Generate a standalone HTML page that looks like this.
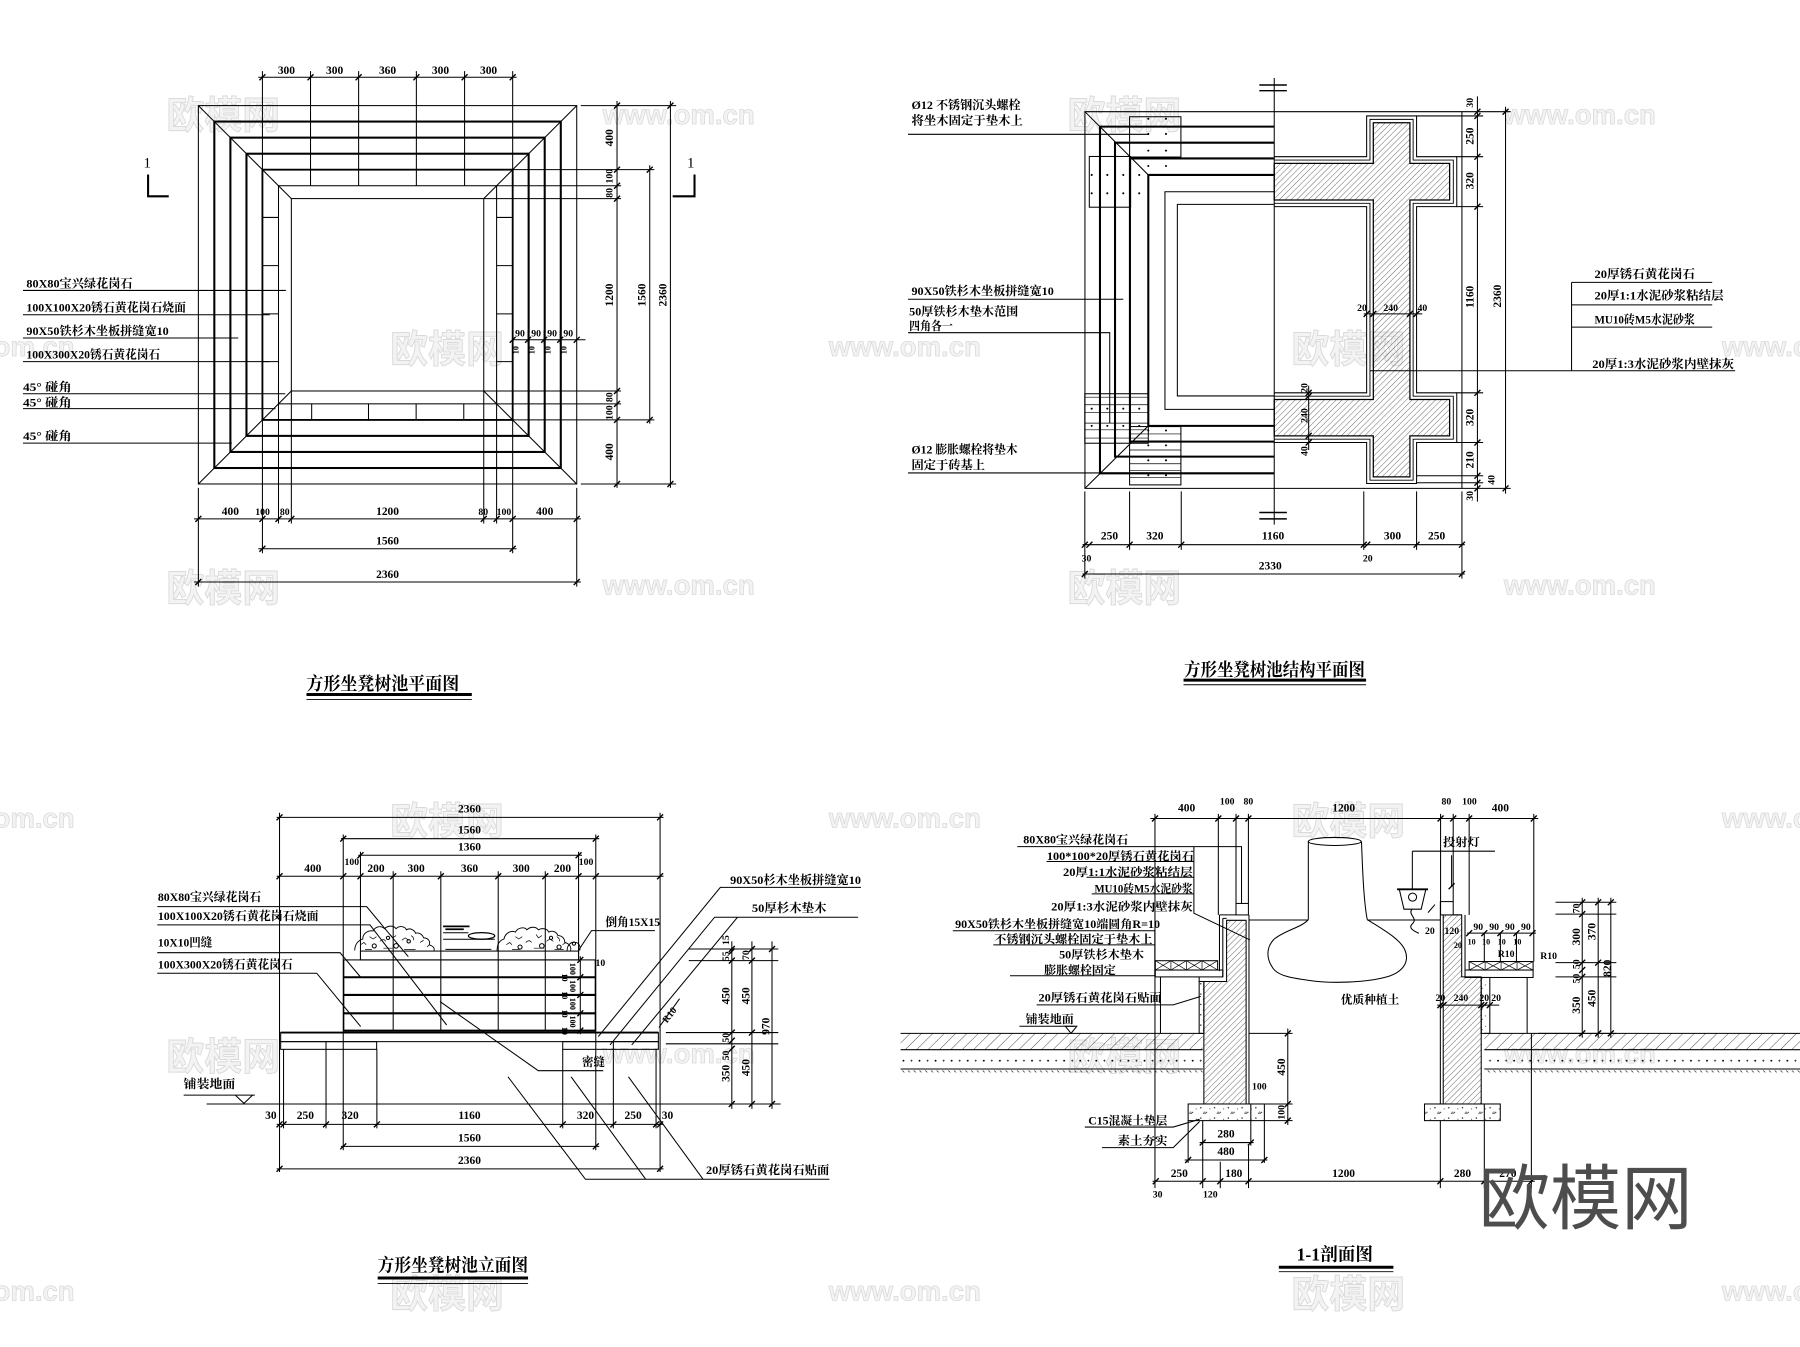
<!DOCTYPE html>
<html><head><meta charset="utf-8">
<style>
html,body{margin:0;padding:0;background:#fff;}
svg{display:block;}
text{font-family:"Liberation Serif","Noto Serif CJK SC","Noto Sans CJK SC",serif;font-weight:bold;fill:#000;stroke:none;}
.d{font-size:10px;}
.s{font-size:8.5px;}
.x{font-size:7px;}
.l{font-size:10.5px;}
.t{font-size:16px;}
.wm{font-family:"Noto Sans CJK SC",sans-serif;font-weight:bold;fill:#f3f3f3;stroke:#dadada;stroke-width:0.8;font-size:33px;}
.wu{font-family:"Liberation Sans",sans-serif;font-weight:bold;fill:#f3f3f3;stroke:#dadada;stroke-width:0.7;font-size:24px;}
.big{font-family:"Noto Sans CJK SC",sans-serif;font-weight:normal;fill:#4d4d4d;font-size:62px;}
</style></head><body>
<svg width="1800" height="1347" viewBox="0 0 1568 1173.4" preserveAspectRatio="none" xmlns="http://www.w3.org/2000/svg" xmlns:xlink="http://www.w3.org/1999/xlink">
<defs>
<path id="k" d="M-2.6,2.6L2.6,-2.6" stroke="#000" stroke-width="1.2" fill="none"/>
<pattern id="h" width="3.6" height="3.6" patternUnits="userSpaceOnUse" patternTransform="rotate(45)"><line x1="0" y1="0" x2="0" y2="3.6" stroke="#000" stroke-width="0.5"/></pattern>
<pattern id="g" width="7" height="7" patternUnits="userSpaceOnUse" patternTransform="rotate(45)"><line x1="0" y1="0" x2="0" y2="7" stroke="#000" stroke-width="0.6"/></pattern>
<pattern id="dt" width="14" height="8" patternUnits="userSpaceOnUse"><circle cx="3" cy="4" r="0.8" fill="#000"/><path d="M9,4h2M10,3v2" stroke="#000" stroke-width="0.5"/></pattern>
<pattern id="sm" width="5" height="4" patternUnits="userSpaceOnUse"><line x1="1" y1="0.5" x2="3" y2="2.5" stroke="#000" stroke-width="0.5"/></pattern>
<pattern id="cc" width="12" height="9" patternUnits="userSpaceOnUse"><circle cx="2" cy="2" r="0.6" fill="#000"/><circle cx="7" cy="6" r="0.5" fill="#000"/><circle cx="10" cy="3" r="0.4" fill="#000"/><path d="M4,7l1.2,-1.6l1.2,1.6z" fill="none" stroke="#000" stroke-width="0.4"/></pattern>
</defs>

<!-- faint watermarks -->
<g>
<text class="wm" x="145" y="112">欧模网</text><text class="wu" x="525" y="108">www.om.cn</text><text class="wm" x="930" y="112">欧模网</text><text class="wu" x="1310" y="108">www.om.cn</text>
<text class="wu" x="65" y="310" text-anchor="end">om.cn</text><text class="wm" x="340" y="316">欧模网</text><text class="wu" x="722" y="310">www.om.cn</text><text class="wm" x="1125" y="316">欧模网</text><text class="wu" x="1500" y="310">www.om.cn</text>
<text class="wm" x="145" y="524">欧模网</text><text class="wu" x="525" y="518">www.om.cn</text><text class="wm" x="930" y="524">欧模网</text><text class="wu" x="1310" y="518">www.om.cn</text>
<text class="wu" x="65" y="721" text-anchor="end">om.cn</text><text class="wm" x="340" y="727">欧模网</text><text class="wu" x="722" y="721">www.om.cn</text><text class="wm" x="1125" y="727">欧模网</text><text class="wu" x="1500" y="721">www.om.cn</text>
<text class="wm" x="145" y="932">欧模网</text><text class="wu" x="525" y="926">www.om.cn</text><text class="wm" x="930" y="932">欧模网</text><text class="wu" x="1310" y="926">www.om.cn</text>
<text class="wu" x="65" y="1133" text-anchor="end">om.cn</text><text class="wm" x="340" y="1139">欧模网</text><text class="wu" x="722" y="1133">www.om.cn</text><text class="wm" x="1125" y="1139">欧模网</text><text class="wu" x="1500" y="1133">www.om.cn</text>
</g>

<!-- ================= PLAN ================= -->
<g stroke="#000" fill="none" stroke-width="0.9">
<rect x="172.8" y="92" width="329.6" height="329.6"/>
<rect x="186.7" y="105.9" width="301.8" height="301.8" stroke-width="1.8"/>
<rect x="200.7" y="119.9" width="273.8" height="273.8" stroke-width="1.8"/>
<rect x="214.7" y="133.9" width="245.8" height="245.8" stroke-width="1.8"/>
<rect x="228.6" y="147.8" width="218" height="218" stroke-width="1.6"/>
<rect x="242.6" y="161.8" width="190" height="190"/>
<rect x="253.8" y="173" width="167.6" height="167.6"/>
<path d="M172.8,92L253.8,173M502.4,92L421.4,173M172.8,421.6L253.8,340.6M502.4,421.6L421.4,340.6"/>
<path d="M270.5,62V161.8M312.4,62V161.8M362.7,62V161.8M404.7,62V161.8M271.5,351.8V365.8M321,351.8V365.8M362.5,351.8V365.8M404,351.8V365.8M228.6,189.4H242.6M228.6,231.4H242.6M228.6,273.4H242.6M228.6,315H242.6M432.6,189.4H446.6M432.6,231.4H446.6M432.6,273.4H446.6M432.6,315H446.6"/>
<path d="M228.6,62V482M446.6,62V482M242.6,340V456M432.6,340V456M253.8,340V456M421.4,340V456M172.8,425V511M502.4,425V511"/>
<path d="M225,67.3H450"/>
<path d="M506,92H589M446.6,147.8H570M432.6,161.8H541M421.4,173H541M421.4,340.6H541M432.6,351.8H541M446.6,365.8H570M506,421.6H589"/>
<path d="M537.5,88V425M566,144V369M584,88V425"/>
<path d="M169,452H506M225,478H450M169,507H506"/>
<path d="M446.6,296H510M460,288V300M474,288V300M488,288V300"/>
<path d="M20,253H249M20,274.2H235M20,294.4H207.5M20,315H235M20,343H248.5M20,356H240M20,386H202"/>
<path d="M129,152V171H147M605,152V171H586" stroke-width="1.8"/>
</g>
<g>
<use href="#k" x="228.6" y="67.3"/><use href="#k" x="270.5" y="67.3"/><use href="#k" x="312.4" y="67.3"/><use href="#k" x="362.7" y="67.3"/><use href="#k" x="404.7" y="67.3"/><use href="#k" x="446.6" y="67.3"/>
<use href="#k" x="537.5" y="92"/><use href="#k" x="537.5" y="147.8"/><use href="#k" x="537.5" y="161.8"/><use href="#k" x="537.5" y="173"/><use href="#k" x="537.5" y="340.6"/><use href="#k" x="537.5" y="351.8"/><use href="#k" x="537.5" y="365.8"/><use href="#k" x="537.5" y="421.6"/>
<use href="#k" x="566" y="147.8"/><use href="#k" x="566" y="365.8"/><use href="#k" x="584" y="92"/><use href="#k" x="584" y="421.6"/>
<use href="#k" x="172.8" y="452"/><use href="#k" x="228.6" y="452"/><use href="#k" x="242.6" y="452"/><use href="#k" x="253.8" y="452"/><use href="#k" x="421.4" y="452"/><use href="#k" x="432.6" y="452"/><use href="#k" x="446.6" y="452"/><use href="#k" x="502.4" y="452"/>
<use href="#k" x="228.6" y="478"/><use href="#k" x="446.6" y="478"/><use href="#k" x="172.8" y="507"/><use href="#k" x="502.4" y="507"/>
<use href="#k" x="446.6" y="296"/><use href="#k" x="460" y="296"/><use href="#k" x="474" y="296"/><use href="#k" x="488" y="296"/><use href="#k" x="502.4" y="296"/>
</g>
<g text-anchor="middle">
<text class="d" x="249.5" y="64.5">300</text><text class="d" x="291.5" y="64.5">300</text><text class="d" x="337.6" y="64.5">360</text><text class="d" x="383.7" y="64.5">300</text><text class="d" x="425.6" y="64.5">300</text>
<text class="d" transform="translate(530.5 120) rotate(-90)" y="3.5">400</text>
<text class="s" transform="translate(530.5 153.5) rotate(-90)" y="3">100</text>
<text class="s" transform="translate(530.5 168) rotate(-90)" y="3">80</text>
<text class="d" transform="translate(530.5 257) rotate(-90)" y="3.5">1200</text>
<text class="s" transform="translate(530.5 346) rotate(-90)" y="3">80</text>
<text class="s" transform="translate(530.5 359.5) rotate(-90)" y="3">100</text>
<text class="d" transform="translate(530.5 393.6) rotate(-90)" y="3.5">400</text>
<text class="d" transform="translate(559 257) rotate(-90)" y="3.5">1560</text>
<text class="d" transform="translate(577 257) rotate(-90)" y="3.5">2360</text>
<text class="d" x="200.7" y="448.5">400</text><text class="s" x="228.7" y="448.5">100</text><text class="s" x="248" y="448.5">80</text><text class="d" x="337.6" y="448.5">1200</text><text class="s" x="421" y="448.5">80</text><text class="s" x="439" y="448.5">100</text><text class="d" x="474.5" y="448.5">400</text>
<text class="d" x="337.6" y="474.5">1560</text><text class="d" x="337.6" y="503.5">2360</text>
<text class="s" x="453" y="293">90</text><text class="s" x="467" y="293">90</text><text class="s" x="481" y="293">90</text><text class="s" x="495" y="293">90</text>
<text class="x" transform="translate(449 305) rotate(-90)" y="2.5">10</text><text class="x" transform="translate(463 305) rotate(-90)" y="2.5">10</text><text class="x" transform="translate(477 305) rotate(-90)" y="2.5">10</text><text class="x" transform="translate(491 305) rotate(-90)" y="2.5">10</text>
</g>
<text x="125" y="146" style="font-size:13px;font-weight:normal">1</text>
<text x="598.5" y="146" style="font-size:13px;font-weight:normal">1</text>
<g class="l">
<text class="l" x="23" y="250.5" textLength="92.5" lengthAdjust="spacingAndGlyphs">80X80宝兴绿花岗石</text>
<text class="l" x="23" y="271.5" textLength="139" lengthAdjust="spacingAndGlyphs">100X100X20锈石黄花岗石烧面</text>
<text class="l" x="23" y="292" textLength="124" lengthAdjust="spacingAndGlyphs">90X50铁杉木坐板拼缝宽10</text>
<text class="l" x="23" y="312.5" textLength="116.5" lengthAdjust="spacingAndGlyphs">100X300X20锈石黄花岗石</text>
<text class="l" x="20" y="340.5" textLength="42.5" lengthAdjust="spacingAndGlyphs">45° 碰角</text>
<text class="l" x="20" y="354" textLength="42.5" lengthAdjust="spacingAndGlyphs">45° 碰角</text>
<text class="l" x="20" y="383.5" textLength="42.5" lengthAdjust="spacingAndGlyphs">45° 碰角</text>
</g>
<text class="t" x="267" y="601" textLength="133" lengthAdjust="spacingAndGlyphs">方形坐凳树池平面图</text>
<path d="M267,605H411" stroke="#000" stroke-width="2.6"/>
<path d="M267,609.3H411" stroke="#000" stroke-width="0.8"/>

<!-- ================= STRUCTURE PLAN ================= -->
<g stroke="#000" fill="none" stroke-width="0.9">
<path d="M1110,68V457"/>
<path d="M1097,74H1121M1097,79H1121M1097,446.5H1121M1097,452H1121" stroke-width="1.3"/>
<path d="M945.1,97.3H1273.5V425.4H945.1Z"/>
<path d="M1110,110.3H958.2V412.3H1110M1110,124.3H971.3V397.8H1110M1110,138H984.3V384.7H1110M1110,152.4H1000.3V371H1110" stroke-width="1.8"/>
<path d="M1110,167H1014.8V356.6H1110M1110,178H1025.6V344.9H1110"/>
<path d="M945.1,97.3L1000.3,152.4M945.1,425.4L1000.3,371"/>
<rect x="984" y="101.7" width="44.7" height="35.1"/>
<rect x="948.9" y="136.3" width="36" height="44.2"/>
<rect x="945" y="343" width="55.3" height="43.1"/>
<path d="M945,346H1000.3M945,352.6H1000.3M945,359.3H1000.3M945,368.6H1000.3M945,374.4H1000.3M945,381.6H1000.3" stroke-width="0.6"/>
<rect x="984" y="371.6" width="44.7" height="50.8"/>
<path d="M984,378H1028.7M984,384H1028.7M984,392H1028.7M984,398H1028.7M984,404H1028.7M984,410H1028.7M984,416H1028.7" stroke-width="0.6"/>
<path d="M1110,136.5H1190.5V101H1234V136.5H1269V180H1234V342.2H1269V385.5H1234V421.2H1190.5V385.5H1110M1110,342.2H1190.5V180H1110"/>
<path d="M1110,139.4H1193.4V104H1231V139.4H1266V177.1H1231V345.1H1266V382.6H1231V418.3H1193.4V382.6H1110M1110,345.1H1193.4V177.1H1110" stroke-width="0.8"/>
<path fill="url(#h)" stroke-width="1.1" d="M1110,142.3H1196.3V106.9H1228.2V142.3H1262.8V174.2H1228.2V348H1262.8V379.7H1228.2V415.4H1196.3V379.7H1110V348H1196.3V174.2H1110Z"/>
<path d="M1188,273.4H1239"/>
<path d="M1140,336V392"/>
<path d="M1369,246V323M1369,246H1491.5M1369,265.6H1491.5M1369,285H1491.5M1193,323H1511.5"/>
<path d="M791,117H1000.3M791,260.7H978.5M791,289.8H966.7V368.6M791,412H1014"/>
<path d="M945,428V504M1273.5,428V504M984,428V479M1029,428V479M1188,428V479M1234,428V479M943,474.5H1276M943,500H1276"/>
<path d="M1273.5,97.3H1316M1234,101H1292M1269,136.5H1292M1269,180H1292M1269,342.2H1292M1269,385.5H1292M1234,414.4H1292M1234,420.5H1292M1273.5,425.4H1316M1287,84V437M1311.5,93V430"/>
</g>
<g fill="#000">
<circle cx="1000.3" cy="103.5" r="0.9"/><circle cx="1015.7" cy="103.5" r="0.9"/><circle cx="1000.3" cy="116.7" r="0.9"/><circle cx="1015.7" cy="116.7" r="0.9"/><circle cx="1000.3" cy="131.2" r="0.9"/><circle cx="1015.7" cy="131.2" r="0.9"/><circle cx="1000.3" cy="144.6" r="0.9"/><circle cx="1015.7" cy="144.6" r="0.9"/>
<circle cx="951" cy="152.4" r="0.9"/><circle cx="964.6" cy="152.4" r="0.9"/><circle cx="978.5" cy="152.4" r="0.9"/><circle cx="992.4" cy="152.4" r="0.9"/><circle cx="951" cy="168.4" r="0.9"/><circle cx="964.6" cy="168.4" r="0.9"/><circle cx="978.5" cy="168.4" r="0.9"/><circle cx="992.4" cy="168.4" r="0.9"/>
<circle cx="951" cy="356" r="0.9"/><circle cx="964.6" cy="356" r="0.9"/><circle cx="978.5" cy="356" r="0.9"/><circle cx="992.4" cy="356" r="0.9"/><circle cx="951" cy="371" r="0.9"/><circle cx="964.6" cy="371" r="0.9"/><circle cx="978.5" cy="371" r="0.9"/><circle cx="992.4" cy="371" r="0.9"/>
<circle cx="1000.3" cy="375" r="0.9"/><circle cx="1015.7" cy="375" r="0.9"/><circle cx="1000.3" cy="388" r="0.9"/><circle cx="1015.7" cy="388" r="0.9"/><circle cx="1000.3" cy="401" r="0.9"/><circle cx="1015.7" cy="401" r="0.9"/><circle cx="1000.3" cy="414" r="0.9"/><circle cx="1015.7" cy="414" r="0.9"/>
</g>
<g>
<use href="#k" x="1287" y="97.3"/><use href="#k" x="1287" y="101"/><use href="#k" x="1287" y="136.5"/><use href="#k" x="1287" y="180"/><use href="#k" x="1287" y="342.2"/><use href="#k" x="1287" y="385.5"/><use href="#k" x="1287" y="414.4"/><use href="#k" x="1287" y="420.5"/><use href="#k" x="1287" y="425.4"/>
<use href="#k" x="1311.5" y="97.3"/><use href="#k" x="1311.5" y="425.4"/>
<use href="#k" x="945" y="474.5"/><use href="#k" x="949" y="474.5"/><use href="#k" x="984" y="474.5"/><use href="#k" x="1029" y="474.5"/><use href="#k" x="1188" y="474.5"/><use href="#k" x="1191" y="474.5"/><use href="#k" x="1234" y="474.5"/><use href="#k" x="1273.5" y="474.5"/>
<use href="#k" x="945" y="500"/><use href="#k" x="1273.5" y="500"/>
<use href="#k" x="1190.5" y="273.4"/><use href="#k" x="1196.3" y="273.4"/><use href="#k" x="1228.2" y="273.4"/><use href="#k" x="1234" y="273.4"/>
<use href="#k" x="1140" y="342.2"/><use href="#k" x="1140" y="345.1"/><use href="#k" x="1140" y="379.7"/><use href="#k" x="1140" y="385.5"/>
</g>
<text class="l" x="794" y="95" textLength="95" lengthAdjust="spacingAndGlyphs">Ø12 不锈钢沉头螺栓</text>
<text class="l" x="794" y="108.5" textLength="97" lengthAdjust="spacingAndGlyphs">将坐木固定于垫木上</text>
<text class="l" x="794" y="257" textLength="124" lengthAdjust="spacingAndGlyphs">90X50铁杉木坐板拼缝宽10</text>
<text class="l" x="792" y="275" textLength="95" lengthAdjust="spacingAndGlyphs">50厚铁杉木垫木范围</text>
<text class="l" x="792" y="287.5" textLength="38" lengthAdjust="spacingAndGlyphs">四角各一</text>
<text class="l" x="794" y="395" textLength="92.5" lengthAdjust="spacingAndGlyphs">Ø12 膨胀螺栓将垫木</text>
<text class="l" x="794" y="408.5" textLength="64" lengthAdjust="spacingAndGlyphs">固定于砖基上</text>
<text class="l" x="1389" y="242" textLength="87.5" lengthAdjust="spacingAndGlyphs">20厚锈石黄花岗石</text>
<text class="l" x="1389" y="261" textLength="112.5" lengthAdjust="spacingAndGlyphs">20厚1:1水泥砂浆粘结层</text>
<text class="l" x="1389" y="282" textLength="87.5" lengthAdjust="spacingAndGlyphs">MU10砖M5水泥砂浆</text>
<text class="l" x="1387" y="320.5" textLength="123.5" lengthAdjust="spacingAndGlyphs">20厚1:3水泥砂浆内壁抹灰</text>
<g text-anchor="middle">
<text class="s" transform="translate(1280 89.5) rotate(-90)" y="3">30</text>
<text class="d" transform="translate(1280 118.6) rotate(-90)" y="3.5">250</text>
<text class="d" transform="translate(1280 157.5) rotate(-90)" y="3.5">320</text>
<text class="d" transform="translate(1280 258.6) rotate(-90)" y="3.5">1160</text>
<text class="d" transform="translate(1280 363.6) rotate(-90)" y="3.5">320</text>
<text class="d" transform="translate(1280 400.6) rotate(-90)" y="3.5">210</text>
<text class="s" transform="translate(1299 418) rotate(-90)" y="3">40</text>
<text class="s" transform="translate(1280 432) rotate(-90)" y="3">30</text>
<text class="d" transform="translate(1304 258) rotate(-90)" y="3.5">2360</text>
<text class="s" x="1186.5" y="271">20</text><text class="s" x="1211.5" y="271">240</text><text class="s" x="1239" y="271">40</text>
<text class="s" transform="translate(1136 338) rotate(-90)" y="3">20</text>
<text class="s" transform="translate(1136 362) rotate(-90)" y="3">240</text>
<text class="s" transform="translate(1136 393) rotate(-90)" y="3">40</text>
<text class="d" x="966.5" y="470">250</text><text class="d" x="1006" y="470">320</text><text class="d" x="1109" y="470">1160</text><text class="d" x="1213" y="470">300</text><text class="d" x="1251.5" y="470">250</text>
<text class="s" x="946.5" y="489">30</text><text class="s" x="1191.5" y="489">20</text>
<text class="d" x="1106.5" y="496">2330</text>
</g>
<text class="t" x="1031.5" y="589" textLength="157.5" lengthAdjust="spacingAndGlyphs">方形坐凳树池结构平面图</text>
<path d="M1031,592.5H1190" stroke="#000" stroke-width="2.6"/>
<path d="M1031,596.5H1190" stroke="#000" stroke-width="0.8"/>

<!-- ================= ELEVATION ================= -->
<g stroke="#000" fill="none" stroke-width="0.9">
<path d="M241,712H578M297,730.6H522M312,745H507M241,763.3H578"/>
<path d="M243.5,708V1021M575,708V1021M299,727V1002M519,727V1002M314,742V836M504,742V836M342.5,759V898M384,759V898M434,759V898M475,759V898"/>
<rect x="299.5" y="836.2" width="219" height="61.6"/>
<path d="M299.5,851.3H518.5M299.5,866.7H518.5M299.5,882.7H518.5M299.5,897.8H518.5" stroke-width="1.8"/>
<rect x="314" y="828.5" width="190" height="7.7"/>
<path d="M244.5,899.5H573.5" stroke-width="1.6"/>
<rect x="244.5" y="899.5" width="329" height="7.9"/>
<rect x="244.5" y="907.4" width="83.6" height="6.7"/>
<rect x="490.2" y="907.4" width="83.3" height="6.7"/>
<path d="M247,914V961.7M284,907.4V961.7M328.3,914V961.7M490.2,914V961.7M534.3,907.4V961.7M571.5,914V961.7"/>
<path d="M180,961.7H680"/>
<path d="M160,954H222M205,954L220,954L212.5,961.2Z"/>
<path d="M241,979.5H578M297,998.6H522M241,1018.2H578M284,961.7V983M328.3,961.7V983M490.2,961.7V983M534.3,961.7V983M247,961.7V983M571.5,961.7V983"/>
<path d="M600,826.7H678M600,836.8H678M580,899.5H678M580,909.3H678M600,961.7H678M637.5,820V966M655,820V966M672.5,820V966"/>
<path d="M137,789.8H319.4L355.7,833.4M137,805.7H322.3L389.1,892.9M137,829.9H296.2L314.2,851.3M137,847.8H275.9L314.2,894.3M383.3,872.5L468.9,932.7H525.5"/>
<path d="M750,773H627.5L521.2,903M747.5,799H622.5L531.4,910.3M642.5,799L550.3,910.3M570.5,810.7H515.3L503.8,828.1M722.5,1027.3H510L442.5,938M562.5,1027.3L497.5,938M612.5,1027.3L547.5,938M592,870L574,895"/>
<path d="M505.5,833V901"/>
<!-- plants -->
<path stroke-width="0.8" d="M309,828c0,-5 3,-9 7,-10c0,-5 5,-8 9,-7c2,-4 7,-5 10,-2c3,-3 8,-3 10,0c3,-3 8,-2 9,1c3,-2 7,0 8,3c3,-1 6,1 7,4c4,0 6,3 5,6c3,1 5,3 4,5"/>
<path stroke-width="0.8" d="M433,828c0,-5 2,-9 6,-10c1,-5 6,-8 10,-6c2,-4 8,-5 10,-2c3,-3 8,-3 10,0c3,-2 8,-1 9,2c3,-2 7,0 8,3c4,0 6,3 6,6c4,1 6,4 5,7"/>
<path stroke-width="0.8" d="M494,828c0,-4 3,-8 7,-7c3,0 5,3 4,7"/>
<path stroke-width="0.6" d="M314,823l3,-2l2,2M322,816l3,2l3,-2M331,820c2,-2 4,-2 5,0M340,814l2,3l3,-2M350,819l3,-2l3,2M358,815c2,1 3,3 2,4M366,821l3,-2M372,825l2,-2M318,827h6M334,826h8M352,827h10M441,823l3,-2l2,2M449,816l3,2l3,-2M458,821c2,-2 4,-2 5,0M467,814l2,3l3,-2M476,820l3,-2l3,2M485,816c2,1 3,3 2,4M490,823l3,-2M446,827h7M465,826h9M483,827h8"/>
<circle cx="326" cy="824" r="1.8"/><circle cx="345" cy="824" r="2"/><circle cx="356" cy="820" r="1.5"/><circle cx="338" cy="817" r="1.4"/><circle cx="453" cy="825" r="1.8"/><circle cx="472" cy="824" r="2"/><circle cx="487" cy="825" r="1.8"/><circle cx="480" cy="817" r="1.4"/><circle cx="500" cy="822" r="1.4"/>
<path stroke-width="1.6" d="M386,807H409M388,809.5H404"/>
<ellipse cx="419.5" cy="815.3" rx="11.5" ry="2.9" stroke-width="1.1"/>
<path stroke-width="0.9" d="M386,812.5H408M386,818.2H431M388,827h40"/>
</g>
<g>
<use href="#k" x="243.5" y="712"/><use href="#k" x="575" y="712"/><use href="#k" x="299" y="730.6"/><use href="#k" x="519" y="730.6"/><use href="#k" x="314" y="745"/><use href="#k" x="504" y="745"/>
<use href="#k" x="243.5" y="763.3"/><use href="#k" x="299" y="763.3"/><use href="#k" x="314" y="763.3"/><use href="#k" x="342.5" y="763.3"/><use href="#k" x="384" y="763.3"/><use href="#k" x="434" y="763.3"/><use href="#k" x="475" y="763.3"/><use href="#k" x="504" y="763.3"/><use href="#k" x="519" y="763.3"/><use href="#k" x="575" y="763.3"/>
<use href="#k" x="243.5" y="979.5"/><use href="#k" x="247" y="979.5"/><use href="#k" x="284" y="979.5"/><use href="#k" x="328.3" y="979.5"/><use href="#k" x="490.2" y="979.5"/><use href="#k" x="534.3" y="979.5"/><use href="#k" x="571.5" y="979.5"/><use href="#k" x="575" y="979.5"/>
<use href="#k" x="299" y="998.6"/><use href="#k" x="519" y="998.6"/><use href="#k" x="243.5" y="1018.2"/><use href="#k" x="575" y="1018.2"/>
<use href="#k" x="637.5" y="826.7"/><use href="#k" x="637.5" y="828.8"/><use href="#k" x="637.5" y="836.8"/><use href="#k" x="637.5" y="899.5"/><use href="#k" x="637.5" y="906.5"/><use href="#k" x="637.5" y="913.6"/><use href="#k" x="637.5" y="961.7"/>
<use href="#k" x="655" y="826.7"/><use href="#k" x="655" y="836.8"/><use href="#k" x="655" y="899.5"/><use href="#k" x="655" y="961.7"/><use href="#k" x="672.5" y="826.7"/><use href="#k" x="672.5" y="961.7"/>
<use href="#k" x="505.5" y="836.2"/><use href="#k" x="505.5" y="851.3"/><use href="#k" x="505.5" y="866.7"/><use href="#k" x="505.5" y="882.7"/><use href="#k" x="505.5" y="897.8"/>
</g>
<g text-anchor="middle">
<text class="d" x="409" y="708">2360</text><text class="d" x="409" y="726">1560</text><text class="d" x="409" y="741">1360</text>
<text class="d" x="272.5" y="759.5">400</text><text class="d" x="327.5" y="759.5">200</text><text class="d" x="362.5" y="759.5">300</text><text class="d" x="409" y="759.5">360</text><text class="d" x="454" y="759.5">300</text><text class="d" x="490" y="759.5">200</text>
<text class="s" x="306.5" y="753.5">100</text><text class="s" x="510.5" y="753.5">100</text>
<text class="d" x="236" y="975">30</text><text class="d" x="266" y="975">250</text><text class="d" x="305" y="975">320</text><text class="d" x="409" y="975">1160</text><text class="d" x="510" y="975">320</text><text class="d" x="551.5" y="975">250</text><text class="d" x="581.5" y="975">30</text>
<text class="d" x="409" y="994.5">1560</text><text class="d" x="409" y="1014">2360</text>
<text class="s" transform="translate(632 819) rotate(-90)" y="3">15</text>
<text class="s" transform="translate(632 833) rotate(-90)" y="3">55</text>
<text class="d" transform="translate(632 867.5) rotate(-90)" y="3.5">450</text>
<text class="s" transform="translate(632 904) rotate(-90)" y="3">50</text>
<text class="s" transform="translate(632 919.5) rotate(-90)" y="3">50</text>
<text class="d" transform="translate(632 935) rotate(-90)" y="3.5">350</text>
<text class="s" transform="translate(649.5 832) rotate(-90)" y="3">70</text>
<text class="d" transform="translate(649.5 867.5) rotate(-90)" y="3.5">450</text>
<text class="d" transform="translate(649.5 930) rotate(-90)" y="3.5">450</text>
<text class="d" transform="translate(667 894) rotate(-90)" y="3.5">970</text>
<text class="x" transform="translate(499 844) rotate(90)" y="2.5">100</text>
<text class="x" transform="translate(499 859) rotate(90)" y="2.5">100</text>
<text class="x" transform="translate(499 874.5) rotate(90)" y="2.5">100</text>
<text class="x" transform="translate(499 890) rotate(90)" y="2.5">100</text>
<text class="x" transform="translate(492 851.5) rotate(90)" y="2.5">10</text>
<text class="x" transform="translate(492 867) rotate(90)" y="2.5">10</text>
<text class="x" transform="translate(492 883) rotate(90)" y="2.5">10</text>
<text class="x" transform="translate(492 898) rotate(90)" y="2.5">10</text>
<text class="s" x="523" y="841.5">10</text>
<text class="s" transform="translate(583 884) rotate(-52)" y="3">R10</text>
</g>
<text class="l" x="137.5" y="785" textLength="90" lengthAdjust="spacingAndGlyphs">80X80宝兴绿花岗石</text>
<text class="l" x="137.5" y="801.5" textLength="140" lengthAdjust="spacingAndGlyphs">100X100X20锈石黄花岗石烧面</text>
<text class="l" x="137.5" y="824.5" textLength="47.5" lengthAdjust="spacingAndGlyphs">10X10凹缝</text>
<text class="l" x="137.5" y="843.5" textLength="117.5" lengthAdjust="spacingAndGlyphs">100X300X20锈石黄花岗石</text>
<text class="l" x="636" y="770" textLength="114" lengthAdjust="spacingAndGlyphs">90X50杉木坐板拼缝宽10</text>
<text class="l" x="655" y="794.5" textLength="65" lengthAdjust="spacingAndGlyphs">50厚杉木垫木</text>
<text class="l" x="527.5" y="806.5" textLength="47.5" lengthAdjust="spacingAndGlyphs">倒角15X15</text>
<text class="l" x="507" y="928.5" textLength="20" lengthAdjust="spacingAndGlyphs">密缝</text>
<text class="l" x="615" y="1022.5" textLength="107.5" lengthAdjust="spacingAndGlyphs">20厚锈石黄花岗石贴面</text>
<text class="l" x="160" y="948" textLength="45" lengthAdjust="spacingAndGlyphs">铺装地面</text>
<text class="t" x="329" y="1107.5" textLength="131" lengthAdjust="spacingAndGlyphs">方形坐凳树池立面图</text>
<path d="M329,1113.3H460" stroke="#000" stroke-width="2.6"/>
<path d="M329,1118H460" stroke="#000" stroke-width="0.8"/>

<!-- ================= SECTION 1-1 ================= -->
<g stroke="#000" fill="none" stroke-width="0.9">
<rect x="784.5" y="900.2" width="263.2" height="14.2" fill="url(#g)" stroke="none"/>
<rect x="1293" y="900.2" width="275" height="14.2" fill="url(#g)" stroke="none"/>
<rect x="784.5" y="920" width="263.2" height="8" fill="url(#dt)" stroke="none"/>
<rect x="1293" y="920" width="275" height="8" fill="url(#dt)" stroke="none"/>
<rect x="784.5" y="931.2" width="263.2" height="3" fill="url(#sm)" stroke="none"/>
<rect x="1293" y="931.2" width="275" height="3" fill="url(#sm)" stroke="none"/>
<path d="M784.5,900.2H1047.7M784.5,914.4H1047.7M784.5,931.2H1047.7M1293,900.2H1568M1293,914.4H1568M1293,931.2H1568"/>
<path fill="url(#h)" d="M1068.5,801.7H1085.5V961.7H1048.7V855H1068.5Z"/>
<path fill="url(#h)" d="M1257.2,797H1273.3V851H1290.3V961.7H1257.2Z"/>
<path d="M1088,797V961.7M1254.7,785V961.7"/>
<rect x="1076.7" y="787" width="10.8" height="10" fill="#fff"/>
<rect x="1254.9" y="785.4" width="11" height="11.6" fill="#fff"/>
<path d="M1062.3,797H1076.7M1062.3,797V846M1065.2,800V851M1065.2,800H1068.5M1065.2,855H1048.7"/>
<rect x="1006.4" y="836.9" width="54.3" height="8.1"/>
<path stroke-width="0.6" d="M1006.4,836.9L1020,845M1020,836.9L1006.4,845M1020,836.9V845M1020,836.9L1033.5,845M1033.5,836.9L1020,845M1033.5,836.9V845M1033.5,836.9L1047.1,845M1047.1,836.9L1033.5,845M1047.1,836.9V845M1047.1,836.9L1060.7,845M1060.7,836.9L1047.1,845"/>
<rect x="1006.4" y="845" width="58.8" height="6"/>
<rect x="1044.6" y="855" width="4.1" height="45.2" fill="url(#cc)"/>
<path d="M1010.9,851V900.2M1044.6,851V855"/>
<path d="M1276.2,797V845M1273.3,797H1266"/>
<rect x="1279.8" y="837.6" width="55.7" height="7.4"/>
<path stroke-width="0.6" d="M1279.8,837.6L1293.7,845M1293.7,837.6L1279.8,845M1293.7,837.6V845M1293.7,837.6L1307.6,845M1307.6,837.6L1293.7,845M1307.6,837.6V845M1307.6,837.6L1321.5,845M1321.5,837.6L1307.6,845M1321.5,837.6V845M1321.5,837.6L1335.5,845M1335.5,837.6L1321.5,845"/>
<rect x="1276.2" y="845" width="59.3" height="6.5"/>
<rect x="1290.3" y="851.5" width="7.5" height="48.7" fill="url(#cc)"/>
<path d="M1330.3,851.5V900.2"/>
<rect x="1035" y="961.7" width="66.4" height="14.5" fill="url(#cc)"/>
<rect x="1240.9" y="961.7" width="66" height="14.5" fill="url(#cc)"/>
<ellipse cx="1162.7" cy="733" rx="23" ry="3.5"/>
<path d="M1139.7,733C1139.5,760 1139.5,785 1139.7,801M1186,733C1187,760 1188,785 1191,801"/>
<path d="M1139.7,801C1134,808 1120,810 1110,818C1102,826 1104,836 1108,842C1112,850 1125,852 1140,854C1160,857 1190,856 1208,851C1222,847 1228,838 1224,828C1220,818 1205,810 1191,801"/>
<path d="M1088,801.4H1139.7M1191,801.4H1254.7"/>
<path d="M1217,774.7H1244" stroke-width="1.6"/>
<path d="M1219,775L1223,792H1238L1242,775"/>
<circle cx="1230.5" cy="781.5" r="3.5"/>
<path d="M1230.3,741.5V774.7M1230.3,741.5H1302.3"/>
<path d="M1230,792C1226,797 1236,800 1230,805C1226,809 1234,812 1236,813"/>
<path d="M1264.5,745V772M1250,788L1244,795"/>
<path d="M1002,713H1340M1006.1,709V1035M1061.3,709V797M1076.7,709V787M1087.5,709V787M1254.9,709V785M1265.9,709V785M1279.8,709V797M1336.1,709V837.6"/>
<path d="M1355,786H1408M1355,796.3H1408M1355,838.6H1408M1355,851H1408M1340,900.2H1408M1378.3,782V904M1392.2,782V904M1403.2,782V904"/>
<path d="M1278,812.9H1338M1293,812.9V837.6M1307,812.9V837.6M1321,812.9V837.6"/>
<path d="M1252,875.6H1306"/>
<path d="M1088,900.2H1126M1101.4,961.7H1126M1101.4,976.2H1126M1121.8,896V980"/>
<path d="M1047.7,976V998M1089.6,961.7V998M1035,976V1013M1101.4,976V1013M1045,995.3H1092M1032,1010.5H1104"/>
<path d="M1004,1029H1337M1047.7,998V1035M1063,1012V1035M1087.6,998V1035M1254.7,976V1035M1293,961.7V1035M1334,900.2V1035"/>
<path d="M886.2,737.5H1081.5V787M911.7,750.5H1040M946.5,764.2H1040M951,778.7H1040M1040,737.5V795.5L1088.9,818.8M830,810.8H1006M865.3,823.1H1006.1M1006,810V850M879.8,850H1006M903,875.4H1022L1046,868M888,894H936M945,981.8H1022L1045,975M960,999.7H1022L1045,977"/>
<path d="M928,894L938,894L933,900.2Z"/>
</g>
<g>
<use href="#k" x="1006.1" y="713"/><use href="#k" x="1061.3" y="713"/><use href="#k" x="1076.7" y="713"/><use href="#k" x="1087.5" y="713"/><use href="#k" x="1254.9" y="713"/><use href="#k" x="1265.9" y="713"/><use href="#k" x="1279.8" y="713"/><use href="#k" x="1336.1" y="713"/>
<use href="#k" x="1378.3" y="786"/><use href="#k" x="1378.3" y="796.3"/><use href="#k" x="1378.3" y="838.6"/><use href="#k" x="1378.3" y="845"/><use href="#k" x="1378.3" y="851"/><use href="#k" x="1378.3" y="900.2"/>
<use href="#k" x="1392.2" y="786"/><use href="#k" x="1392.2" y="838.6"/><use href="#k" x="1392.2" y="900.2"/><use href="#k" x="1403.2" y="786"/><use href="#k" x="1403.2" y="900.2"/>
<use href="#k" x="1279.8" y="812.9"/><use href="#k" x="1293" y="812.9"/><use href="#k" x="1307" y="812.9"/><use href="#k" x="1321" y="812.9"/><use href="#k" x="1335" y="812.9"/>
<use href="#k" x="1254.7" y="875.6"/><use href="#k" x="1257.5" y="875.6"/><use href="#k" x="1290.3" y="875.6"/><use href="#k" x="1293" y="875.6"/><use href="#k" x="1297.8" y="875.6"/>
<use href="#k" x="1121.8" y="900.2"/><use href="#k" x="1121.8" y="961.7"/><use href="#k" x="1121.8" y="976.2"/>
<use href="#k" x="1047.7" y="995.3"/><use href="#k" x="1089.6" y="995.3"/><use href="#k" x="1035" y="1010.5"/><use href="#k" x="1101.4" y="1010.5"/>
<use href="#k" x="1006.8" y="1029"/><use href="#k" x="1047.7" y="1029"/><use href="#k" x="1063" y="1029"/><use href="#k" x="1087.6" y="1029"/><use href="#k" x="1254.7" y="1029"/><use href="#k" x="1293" y="1029"/><use href="#k" x="1334" y="1029"/>
<use href="#k" x="1264.5" y="772"/>
</g>
<g text-anchor="middle">
<text class="d" x="1033.7" y="707">400</text><text class="s" x="1069" y="701">100</text><text class="s" x="1087.5" y="701">80</text><text class="d" x="1170.5" y="707">1200</text><text class="s" x="1260" y="701">80</text><text class="s" x="1280" y="701">100</text><text class="d" x="1307" y="707">400</text>
<text class="s" transform="translate(1373 791.3) rotate(-90)" y="3">70</text>
<text class="d" transform="translate(1373 816) rotate(-90)" y="3.5">300</text>
<text class="s" transform="translate(1373 840) rotate(-90)" y="3">50</text>
<text class="s" transform="translate(1373 852.5) rotate(-90)" y="3">50</text>
<text class="d" transform="translate(1373 875.6) rotate(-90)" y="3.5">350</text>
<text class="d" transform="translate(1386.5 811.5) rotate(-90)" y="3.5">370</text>
<text class="d" transform="translate(1386.5 869.6) rotate(-90)" y="3.5">450</text>
<text class="d" transform="translate(1399.8 843.5) rotate(-90)" y="3.5">820</text>
<text class="s" x="1287.7" y="810">90</text><text class="s" x="1301.6" y="810">90</text><text class="s" x="1315.3" y="810">90</text><text class="s" x="1329.2" y="810">90</text>
<text class="x" x="1282" y="823">10</text><text class="x" x="1294.6" y="823">10</text><text class="x" x="1308.2" y="823">10</text><text class="x" x="1321.8" y="823">10</text>
<text class="s" x="1312" y="833.5">R10</text><text class="s" x="1349" y="835.5">R10</text>
<text class="s" x="1245.6" y="813.5">20</text><text class="s" x="1264.7" y="813.5">120</text><text class="x" x="1270" y="826">20</text>
<text class="s" x="1254.7" y="872">20</text><text class="s" x="1272.6" y="872">240</text><text class="s" x="1293" y="872">20</text><text class="s" x="1303.3" y="872">20</text>
<text class="d" transform="translate(1116 929.5) rotate(-90)" y="3.5">450</text>
<text class="s" transform="translate(1116 969) rotate(-90)" y="3">100</text>
<text class="s" x="1097" y="949">100</text>
<text class="d" x="1068" y="991">280</text><text class="d" x="1068" y="1006">480</text>
<text class="d" x="1027.3" y="1025.5">250</text><text class="d" x="1074.8" y="1025.5">180</text><text class="d" x="1170.4" y="1025.5">1200</text><text class="d" x="1274" y="1025.5">280</text><text class="d" x="1313.5" y="1025.5">270</text>
<text class="s" x="1008.4" y="1043">30</text><text class="s" x="1054.3" y="1043">120</text>
</g>
<text class="d" x="891.4" y="735" textLength="91.4" lengthAdjust="spacingAndGlyphs">80X80宝兴绿花岗石</text>
<text class="d" x="1040" y="749" text-anchor="end" textLength="128" lengthAdjust="spacingAndGlyphs">100*100*20厚锈石黄花岗石</text>
<text class="d" x="1039" y="763" text-anchor="end" textLength="113" lengthAdjust="spacingAndGlyphs">20厚1:1水泥砂浆粘结层</text>
<text class="d" x="1039" y="777.5" text-anchor="end" textLength="85.6" lengthAdjust="spacingAndGlyphs">MU10砖M5水泥砂浆</text>
<text class="d" x="1039" y="793" text-anchor="end" textLength="123.4" lengthAdjust="spacingAndGlyphs">20厚1:3水泥砂浆内壁抹灰</text>
<text class="d" x="832" y="808.5" textLength="178.5" lengthAdjust="spacingAndGlyphs">90X50铁杉木坐板拼缝宽10端圆角R=10</text>
<text class="d" x="866" y="821.5" textLength="138" lengthAdjust="spacingAndGlyphs">不锈钢沉头螺栓固定于垫木上</text>
<text class="d" x="922.6" y="835" textLength="74" lengthAdjust="spacingAndGlyphs">50厚铁杉木垫木</text>
<text class="d" x="909.6" y="848.5" textLength="62.4" lengthAdjust="spacingAndGlyphs">膨胀螺栓固定</text>
<text class="d" x="904.6" y="872.5" textLength="107.4" lengthAdjust="spacingAndGlyphs">20厚锈石黄花岗石贴面</text>
<text class="d" x="893.4" y="891" textLength="42" lengthAdjust="spacingAndGlyphs">铺装地面</text>
<text class="d" x="948" y="979.5" textLength="69" lengthAdjust="spacingAndGlyphs">C15混凝土垫层</text>
<text class="d" x="973.6" y="997" textLength="43.4" lengthAdjust="spacingAndGlyphs">素土夯实</text>
<text class="d" x="1168" y="874" textLength="51" lengthAdjust="spacingAndGlyphs">优质种植土</text>
<text class="d" x="1257" y="737" textLength="32" lengthAdjust="spacingAndGlyphs">投射灯</text>
<text class="t" x="1129.5" y="1098" textLength="66.5" lengthAdjust="spacingAndGlyphs">1-1剖面图</text>
<path d="M1114,1103.9H1213.8" stroke="#000" stroke-width="2.6"/>
<path d="M1114,1107.8H1213.8" stroke="#000" stroke-width="0.8"/>

<!-- big watermark -->
<text class="big" x="1288" y="1066" textLength="186.5" lengthAdjust="spacingAndGlyphs">欧模网</text>
</svg>
</body></html>
